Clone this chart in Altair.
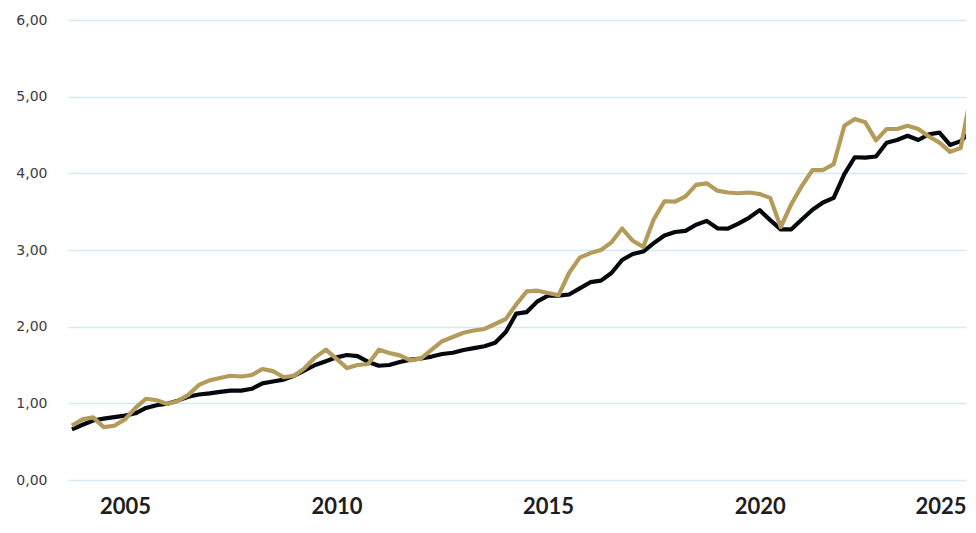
import altair as alt
import pandas as pd

# Quarterly observations, 2003Q4 .. 2025Q1
quarters = pd.date_range("2003-10-01", periods=86, freq="QS").strftime("%Y-%m-%d").tolist()

black_series = [
    0.66, 0.72, 0.776, 0.80, 0.82, 0.84, 0.87, 0.94, 0.975, 0.995,
    1.035, 1.085, 1.115, 1.13, 1.15, 1.165, 1.165, 1.19, 1.26, 1.285,
    1.31, 1.36, 1.43, 1.50, 1.55, 1.60, 1.63, 1.615, 1.54, 1.49,
    1.50, 1.54, 1.57, 1.585, 1.61, 1.643, 1.66, 1.695, 1.72, 1.745,
    1.79, 1.93, 2.17, 2.19, 2.33, 2.404, 2.404, 2.42, 2.50, 2.58,
    2.60, 2.70, 2.87, 2.948, 2.98, 3.09, 3.19, 3.235, 3.25, 3.33,
    3.38, 3.283, 3.28, 3.345, 3.42, 3.52, 3.39, 3.27, 3.27, 3.40,
    3.525, 3.62, 3.68, 3.99, 4.21, 4.205, 4.22, 4.40, 4.435, 4.49,
    4.435, 4.51, 4.53, 4.37, 4.42, 4.55,
]

gold_series = [
    0.71, 0.79, 0.817, 0.69, 0.708, 0.79, 0.94, 1.06, 1.04, 0.99,
    1.03, 1.11, 1.24, 1.30, 1.33, 1.36, 1.35, 1.37, 1.448, 1.42,
    1.34, 1.36, 1.46, 1.60, 1.70, 1.58, 1.46, 1.50, 1.513, 1.70,
    1.656, 1.625, 1.56, 1.587, 1.70, 1.81, 1.865, 1.92, 1.95, 1.97,
    2.035, 2.10, 2.29, 2.46, 2.469, 2.44, 2.41, 2.70, 2.90, 2.96,
    3.00, 3.10, 3.28, 3.12, 3.04, 3.40, 3.636, 3.63, 3.70, 3.85,
    3.87, 3.774, 3.75, 3.74, 3.75, 3.73, 3.68, 3.30, 3.60, 3.84,
    4.043, 4.043, 4.12, 4.62, 4.708, 4.665, 4.43, 4.578, 4.578, 4.62,
    4.578, 4.48, 4.40, 4.28, 4.33, 5.05,
]

y_ticks = [0, 1, 2, 3, 4, 5, 6]
# visible window of the time axis (the last quarter is cut by the frame)
x_window = ["2003-08-28", "2024-11-16"]
# label positions: year starts, last one sits at the right edge of the window
x_label_dates = ["2005-01-01", "2010-01-01", "2015-01-01", "2020-01-01", "2024-11-16"]

df = pd.DataFrame({
    "date": quarters * 2,
    "value": black_series + gold_series,
    "series": ["black"] * len(quarters) + ["gold"] * len(quarters),
})

x_enc = alt.X(
    "date:T",
    scale=alt.Scale(domain=x_window),
    axis=alt.Axis(
        values=[pd.Timestamp(d).isoformat() for d in x_label_dates],
        labelExpr="timeFormat(timeOffset('month', datum.value, 2), '%Y')",
        grid=False,
        domain=False,
        ticks=False,
        labelFont="Lato",
        labelFontWeight="bold",
        labelFontSize=22,
        labelColor="#1e1e1e",
        labelPadding=16,
        labelBaseline="top",
        title=None,
    ),
)
y_enc = alt.Y(
    "value:Q",
    scale=alt.Scale(domain=[0, 6], nice=False, zero=True),
    axis=alt.Axis(
        values=y_ticks,
        labelExpr="replace(format(datum.value, '.2f'), '.', ',')",
        grid=True,
        gridColor="#d3e9f7",
        gridWidth=1.3,
        domain=False,
        ticks=False,
        labelFont="DejaVu Sans",
        labelFontSize=14,
        labelColor="#3c3c3c",
        labelPadding=21,
        title=None,
    ),
)

base = alt.Chart(df)
black_line = base.transform_filter(alt.datum.series == "black").mark_line(
    color="#05090d", strokeWidth=4.2, strokeJoin="round", clip=True
).encode(x=x_enc, y=y_enc)
gold_line = base.transform_filter(alt.datum.series == "gold").mark_line(
    color="#b39b5a", strokeWidth=4.2, strokeJoin="round", clip=True
).encode(x=x_enc, y=y_enc)

chart = alt.layer(black_line, gold_line).properties(
    width=898,
    height=460,
    background="white",
    autosize=alt.AutoSizeParams(type="none"),
    padding={"left": 60, "top": 12, "right": 2, "bottom": 37},
).configure_view(strokeWidth=0, stroke="transparent")

chart.save("out.html", embed_options={"renderer": "svg", "actions": False})
